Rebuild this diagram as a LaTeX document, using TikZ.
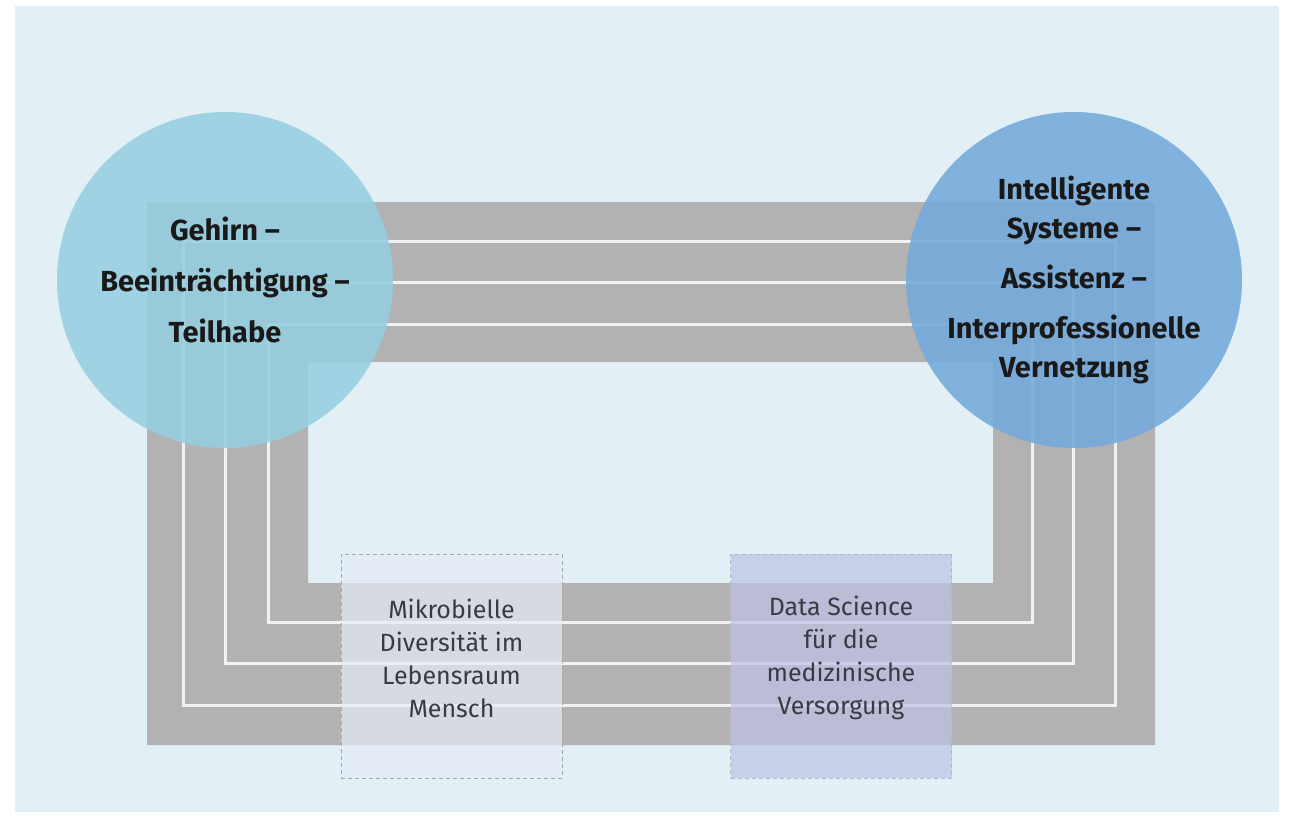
\documentclass[tikz,border=0pt]{standalone}
\usepackage{fontspec}
\setmainfont{Fira Sans}
\usepackage{tikz}
\usetikzlibrary{positioning}

\definecolor{panelblue}{RGB}{226,240,246}
\definecolor{bandgray}{RGB}{178,178,178}
\definecolor{laneline}{RGB}{242,242,242}
\definecolor{brainblue}{RGB}{150,206,224}
\definecolor{systemblue}{RGB}{115,170,218}
\definecolor{microbefill}{RGB}{230,237,246}
\definecolor{datafill}{RGB}{190,194,228}
\definecolor{fieldtextgray}{RGB}{58,58,68}

\begin{document}
\begin{tikzpicture}[x=1pt,y=-1pt,
	focus/.style={circle, minimum size=336pt, inner sep=0pt,
		fill opacity=0.88, text opacity=1, align=center,
		font=\bfseries\fontsize{29}{39}\selectfont, text=black!90},
	field/.style={dash pattern=on 4pt off 3pt, line width=1pt,
		minimum width=221pt, minimum height=224pt, inner sep=0pt,
		fill opacity=0.7},
	fieldtext/.style={align=center, font=\fontsize{25}{33}\selectfont,
		text=fieldtextgray},
	lane/.style={draw=laneline, line width=3pt}]

		\useasboundingbox (0,0) rectangle (1291,815);

		% Background panel.
		\fill[panelblue] (15,6) rectangle (1279,812);

		% Gray band running round the picture.
		\fill[bandgray, even odd rule] (147,202) rectangle (1155,745)
			(308,362) rectangle (993,583);

		% White lanes inside the band.
		\foreach \i in {0,1,2}{
			\draw[lane] (183+42.5*\i,241+41.5*\i)
				rectangle (1115-41.5*\i,705-41.5*\i);
		}

		% MAIN FOCUS AREAS
		\node[focus, fill=brainblue] (brain) at (225,280)
			{Gehirn –\\[12pt]Beeinträchtigung –\\[12pt]Teilhabe};
		\node[focus, fill=systemblue] (systems) at (1074,280)
			{Intelligente\\Systeme –\\[11pt]Assistenz –\\[11pt]Interprofessionelle\\Vernetzung};

		% CROSS-SECTIONAL FIELDS
		\node[field, draw=gray!70, fill=microbefill] (microbe) at (451.5,666) {};
		\node[fieldtext] (microbe text) at ([yshift=8pt]microbe.center)
			{Mikrobielle\\Diversität im\\Lebensraum\\Mensch};

		\node[field, draw=datafill!80!gray, fill=datafill] (data) at (841,666) {};
		\node[fieldtext] (data text) at ([yshift=8pt]data.center)
			{Data Science\\für die\\medizinische\\Versorgung};

\end{tikzpicture}
\end{document}
